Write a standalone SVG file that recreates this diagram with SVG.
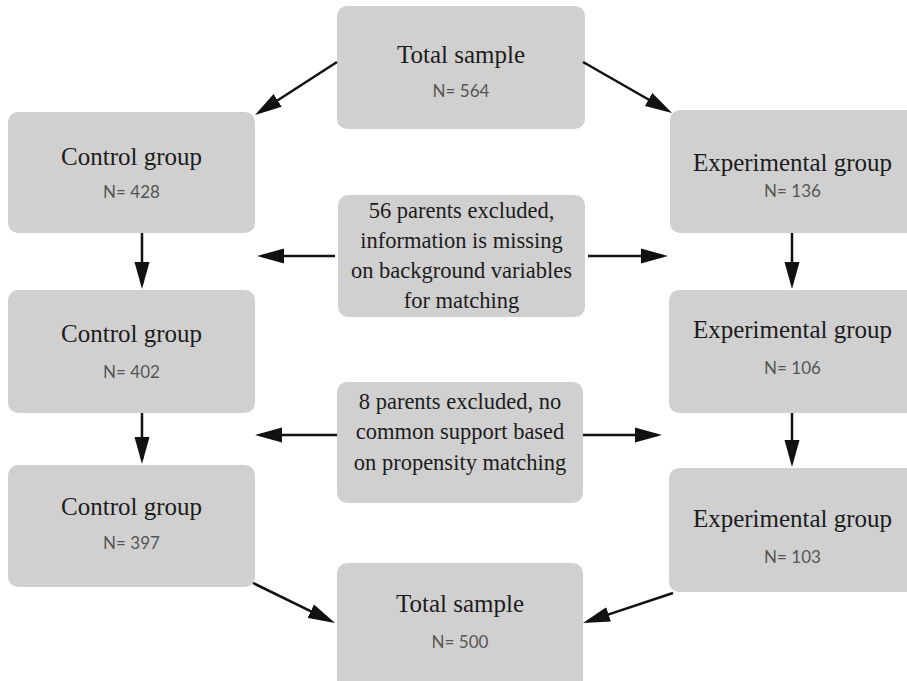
<svg xmlns="http://www.w3.org/2000/svg" width="907" height="681" viewBox="0 0 907 681">
<style>
.box{fill:#d0d0d0}
.t{font-family:"Liberation Serif","Times New Roman",serif;font-size:25px;fill:#1c1c1c;text-anchor:middle}
.m{font-family:"Liberation Serif","Times New Roman",serif;font-size:22.5px;fill:#1c1c1c;text-anchor:middle}
.n{font-family:Lato,"Liberation Sans",sans-serif;font-size:17px;fill:#555;text-anchor:middle}
.c line{stroke:#111;stroke-width:2.5;marker-end:url(#ah)}
</style>
<defs>
<marker id="ah" markerUnits="userSpaceOnUse" markerWidth="28" markerHeight="16" refX="22" refY="8" orient="auto" viewBox="0 0 28 16">
<path d="M0,0.5 L27,8 L0,15.5 Z" fill="#111"/>
</marker>
</defs>
<rect width="907" height="681" fill="#fff"/>
<g id="total1"><rect class="box" x="337" y="6" width="248" height="123" rx="10"/><text class="t" x="461" y="63">Total sample</text><text class="n" x="461" y="97">N= 564</text></g>
<g id="control1"><rect class="box" x="8" y="112" width="247" height="121" rx="10"/><text class="t" x="131.5" y="165">Control group</text><text class="n" x="131.5" y="198">N= 428</text></g>
<g id="exp1"><rect class="box" x="670" y="110" width="250" height="123" rx="10"/><text class="t" x="792.5" y="171">Experimental group</text><text class="n" x="792.5" y="197">N= 136</text></g>
<g id="excl1"><rect class="box" x="338" y="195" width="247" height="122" rx="10"/><text class="m" x="461.5" y="218">56 parents excluded,</text><text class="m" x="461.5" y="248">information is missing</text><text class="m" x="461.5" y="278">on background variables</text><text class="m" x="461.5" y="308">for matching</text></g>
<g id="control2"><rect class="box" x="8" y="290" width="247" height="123" rx="10"/><text class="t" x="131.5" y="342">Control group</text><text class="n" x="131.5" y="378">N= 402</text></g>
<g id="exp2"><rect class="box" x="669" y="290" width="251" height="123" rx="10"/><text class="t" x="792.5" y="338">Experimental group</text><text class="n" x="792.5" y="374">N= 106</text></g>
<g id="excl2"><rect class="box" x="337" y="382" width="246" height="121" rx="10"/><text class="m" x="460" y="409">8 parents excluded, no</text><text class="m" x="460" y="439">common support based</text><text class="m" x="460" y="470">on propensity matching</text></g>
<g id="control3"><rect class="box" x="8" y="465" width="247" height="122" rx="10"/><text class="t" x="131.5" y="515">Control group</text><text class="n" x="131.5" y="549">N= 397</text></g>
<g id="exp3"><rect class="box" x="669" y="468" width="251" height="124" rx="10"/><text class="t" x="792.5" y="527">Experimental group</text><text class="n" x="792.5" y="563">N= 103</text></g>
<g id="total2"><rect class="box" x="337" y="563" width="246" height="130" rx="10"/><text class="t" x="460" y="612">Total sample</text><text class="n" x="460" y="648">N= 500</text></g>
<g id="connectors" class="c">
<line x1="337" y1="62" x2="259.2" y2="112.3"/>
<line x1="583" y1="62" x2="667.7" y2="110.5"/>
<line x1="142" y1="233" x2="142" y2="284"/>
<line x1="142" y1="413" x2="142" y2="459"/>
<line x1="792" y1="233" x2="792" y2="284"/>
<line x1="792" y1="413" x2="792" y2="462"/>
<line x1="335" y1="256" x2="262" y2="256"/>
<line x1="588" y1="256" x2="663" y2="256"/>
<line x1="337" y1="435" x2="260" y2="435"/>
<line x1="583" y1="435" x2="657" y2="435"/>
<line x1="253" y1="583" x2="330.5" y2="620.8"/>
<line x1="673" y1="593" x2="587.7" y2="621.4"/>
</g>
</svg>
